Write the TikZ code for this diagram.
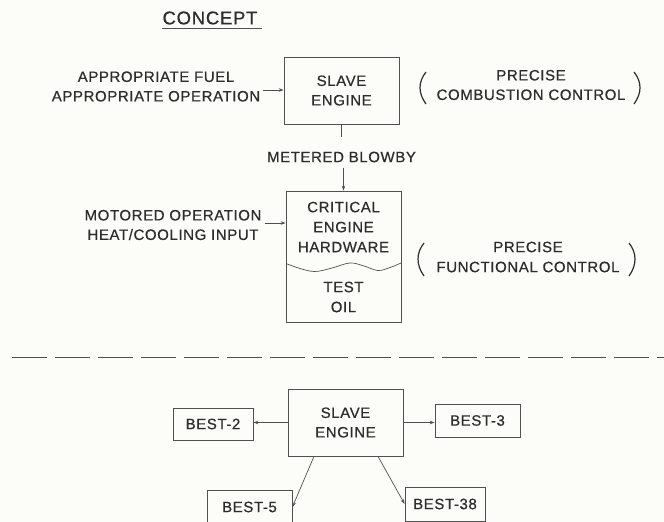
\documentclass[tikz,border=0pt]{standalone}
\usepackage{fontspec}
\setmainfont{Liberation Sans}[LetterSpace=4, FakeBold=0.6]
\usetikzlibrary{arrows.meta}
\definecolor{bg}{RGB}{252,252,248}
\definecolor{ink}{RGB}{45,45,45}
\definecolor{lncol}{RGB}{80,80,80}
\tikzset{
 txt/.style={font=\fontsize{15}{19.5}\selectfont, text=ink, align=center, inner sep=3pt},
 box/.style={txt, draw=lncol, line width=0.8pt, inner sep=0pt},
 arr/.style={draw=lncol, line width=0.7pt, -{Stealth[length=5pt,width=3.5pt]}},
 thinline/.style={draw=lncol, line width=0.7pt},
 paren/.style={draw=ink, line width=1.2pt},
}
\begin{document}
\begin{tikzpicture}[x=1pt,y=-1pt]
\useasboundingbox[fill=bg] (0,0) rectangle (664,522);
\clip (0,0) rectangle (664,522);
% title
\node[txt, font=\fontsize{18.5}{22}\selectfont, inner sep=0pt] (concept) at (210,18) {CONCEPT};
\draw[thinline, line width=1.1pt] ([yshift=-4.5pt]concept.base west) -- ([yshift=-4.5pt,xshift=4pt]concept.base east);
% top slave engine
\node[box, minimum width=115pt, minimum height=67pt] (se) at (341.5,90.5) {SLAVE\\ENGINE};
\node[txt] (fuel) at (156,86.5) {APPROPRIATE FUEL\\APPROPRIATE OPERATION};
\draw[arr] ([yshift=-3.5pt]fuel.east) -- ([yshift=-3.5pt]fuel.east -| se.west);
\node[txt] (comb) at (531,85) {PRECISE\\COMBUSTION CONTROL};
\draw[paren] (426,72) .. controls (418,82) and (418,93) .. (426,104);
\draw[paren] (634,72) .. controls (642,82) and (642,93) .. (634,104);
% metered blowby
\node[txt] (mb) at (341.5,157) {METERED BLOWBY};
% critical engine hardware
\node[box, minimum width=115pt, minimum height=131pt] (crit) at (343.5,256.5) {};
\draw[thinline] (se.south) -- ++(0,13);
\draw[arr] ([yshift=23pt]crit.north) -- (crit.north);
\node[txt, font=\fontsize{15}{20}\selectfont] (crittxt) at (343.5,227) {CRITICAL\\ENGINE\\HARDWARE};
\node[txt, font=\fontsize{15}{20}\selectfont] (oil) at (343.5,297) {TEST\\OIL};
\draw[thinline] plot[smooth, tension=0.6] coordinates {(286,263.5) (300,268.5) (315,271.5) (332,268) (350,263) (364,266) (378,270.5) (390,267.5) (401,263)};
\node[txt] (mot) at (173,225) {MOTORED OPERATION\\HEAT/COOLING INPUT};
\draw[arr] ([yshift=2pt]mot.east) -- ([yshift=2pt]mot.east -| crit.west);
\node[txt, font=\fontsize{15}{20}\selectfont] (func) at (528,257) {PRECISE\\FUNCTIONAL CONTROL};
\draw[paren] (424,243) .. controls (416,253) and (416,265) .. (424,276);
\draw[paren] (629,243) .. controls (637,253) and (637,265) .. (629,276);
% separator
\draw[thinline, dash pattern=on 35pt off 8pt] (12,357) -- (664,357);
% bottom
\node[box, minimum width=115pt, minimum height=67pt] (se2) at (345.5,422.5) {SLAVE\\ENGINE};
\node[box, minimum width=80pt, minimum height=32pt] (b2) at (213,424) {BEST-2};
\node[box, minimum width=85pt, minimum height=33pt] (b3) at (477.5,420.5) {BEST-3};
\node[box, minimum width=85pt, minimum height=34pt] (b5) at (249.5,507) {BEST-5};
\node[box, minimum width=80pt, minimum height=34pt] (b38) at (445,504) {BEST-38};
\draw[arr] (se2.west) -- (se2.west -| b2.east);
\draw[arr] (se2.east) -- (se2.east -| b3.west);
\draw[arr] ([xshift=-31.5pt]se2.south) -- (b5.east);
\draw[arr] ([xshift=32.5pt]se2.south) -- (b38.west);
\end{tikzpicture}
\end{document}
